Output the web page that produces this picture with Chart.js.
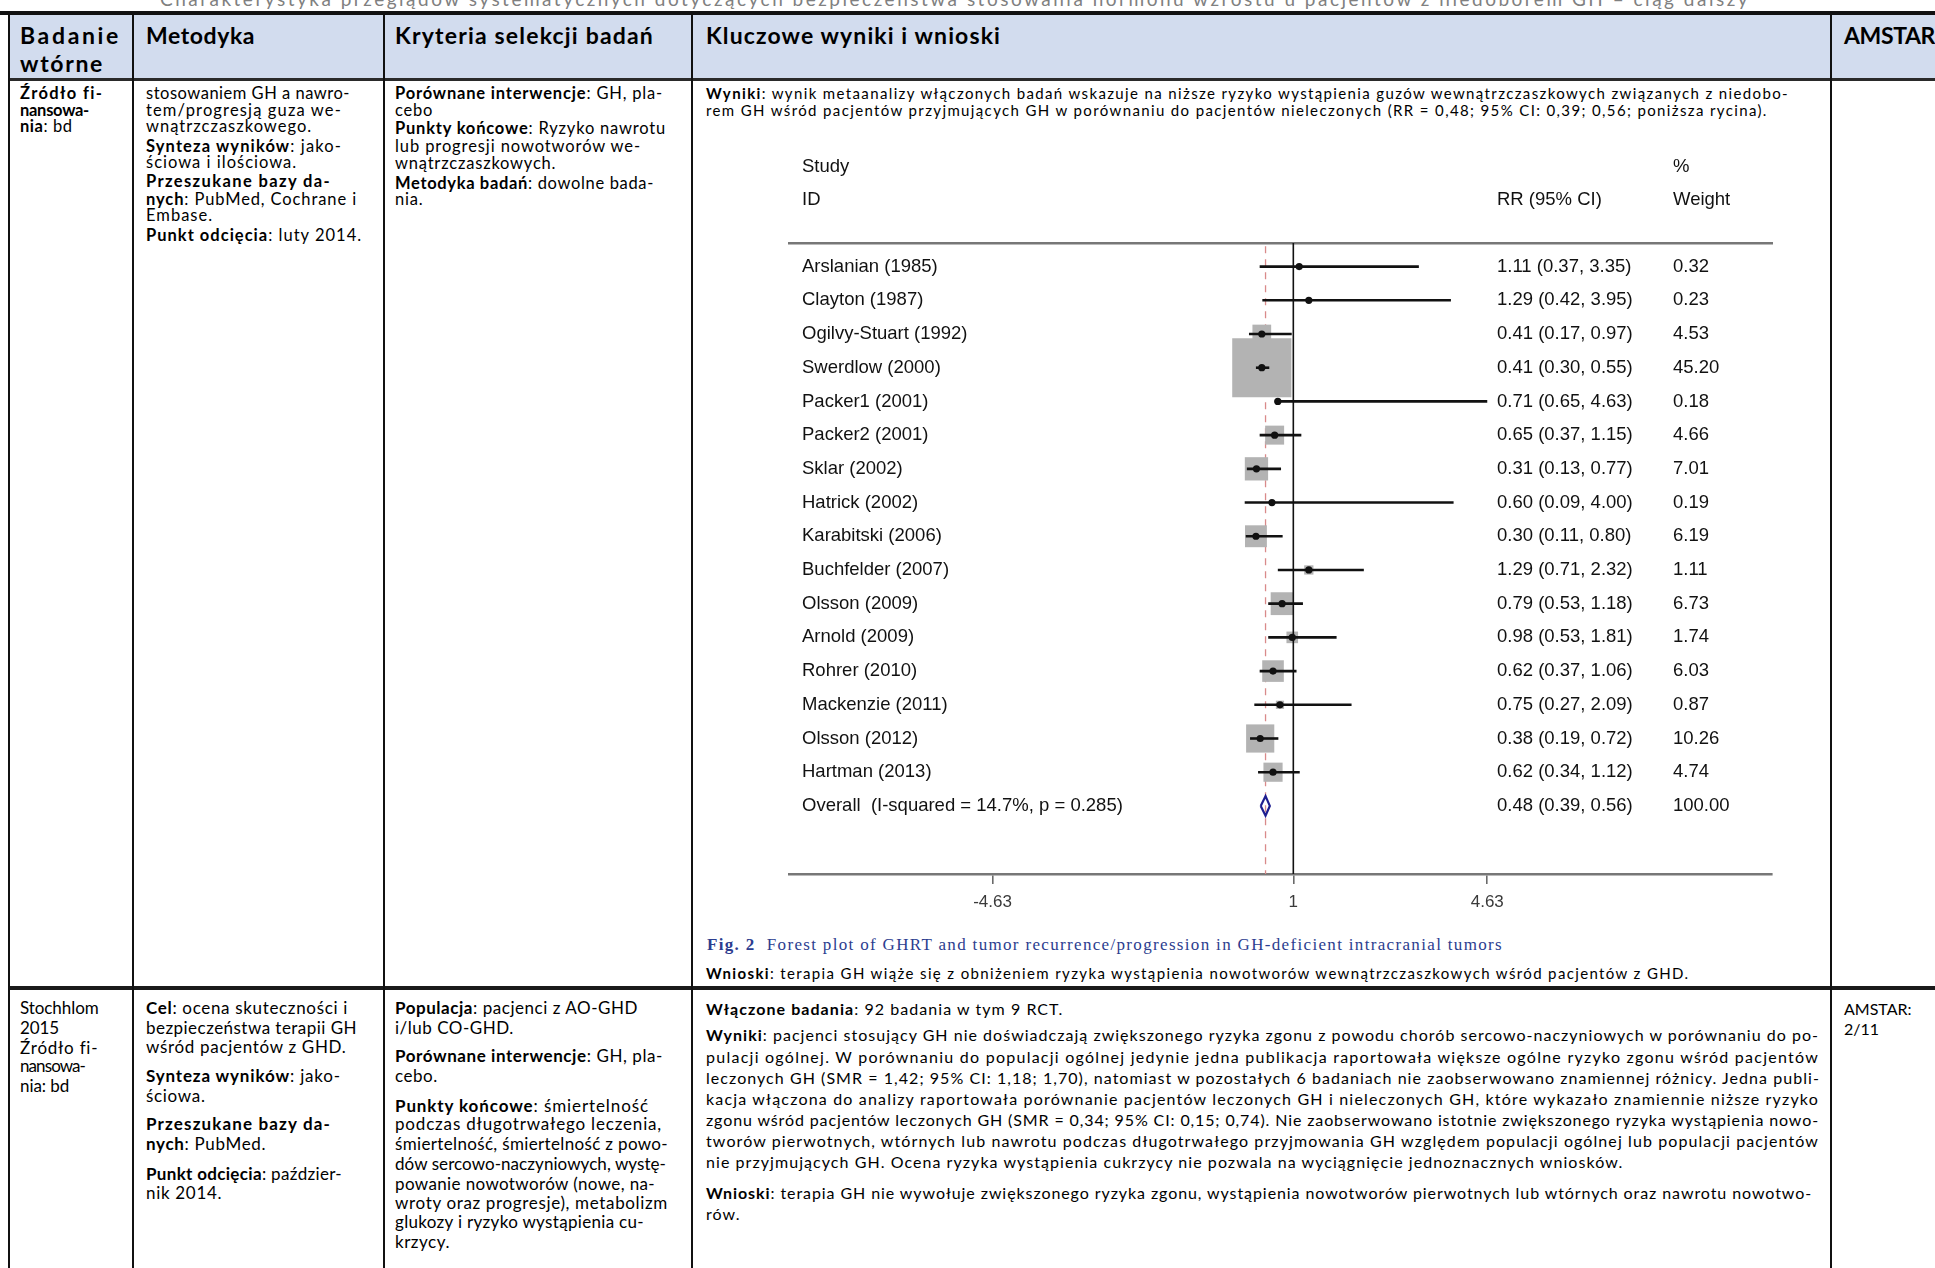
<!DOCTYPE html>
<html lang="pl">
<head>
<meta charset="utf-8">
<title>Forest plot – GHRT</title>
<script src="https://cdn.jsdelivr.net/npm/chart.js@4.4.1/dist/chart.umd.min.js"></script>
<style>
  html, body { margin: 0; padding: 0; background: #fff; }
  #page { position: relative; width: 1935px; height: 1268px; overflow: hidden; background: #fff;
          font-family: Lato, "Liberation Sans", sans-serif; color: #000; }
  .rule { position: absolute; background: #111; }
  .ln { position: absolute; white-space: nowrap; }
  .ln span { display: inline-block; white-space: pre; }
  .ln b { font-weight: 700; }
  #forest { position: absolute; left: 760px; top: 140px; }
</style>
</head>
<body>
<div id="page">
  <div class="rule" style="left:9px;top:15px;width:1926px;height:65px;background:#d2dcee"></div>
  <div class="rule" style="left:0;top:11px;width:1935px;height:4px"></div>
  <div class="rule" style="left:9px;top:78px;width:1926px;height:3px;background:#2a2a2a"></div>
  <div class="rule" style="left:9px;top:986px;width:1926px;height:4px;background:#1a1a1a"></div>
  <div class="rule" style="left:8px;top:14px;width:2px;height:1254px"></div>
  <div class="rule" style="left:132px;top:14px;width:2px;height:1254px"></div>
  <div class="rule" style="left:383px;top:14px;width:2px;height:1254px"></div>
  <div class="rule" style="left:691px;top:14px;width:2px;height:1254px"></div>
  <div class="rule" style="left:1830px;top:14px;width:2px;height:1254px"></div>
  <div id="text"></div>
  <canvas id="forest" width="1040" height="774"></canvas>
</div>
<script>
// ---- forest plot data: RR with 95% CI and % weight per study ----
const studies = [
  'Arslanian (1985)', 'Clayton (1987)', 'Ogilvy-Stuart (1992)', 'Swerdlow (2000)',
  'Packer1 (2001)', 'Packer2 (2001)', 'Sklar (2002)', 'Hatrick (2002)',
  'Karabitski (2006)', 'Buchfelder (2007)', 'Olsson (2009)', 'Arnold (2009)',
  'Rohrer (2010)', 'Mackenzie (2011)', 'Olsson (2012)', 'Hartman (2013)'
];
const rr      = [1.11, 1.29, 0.41, 0.41, 0.71, 0.65, 0.31, 0.60, 0.30, 1.29, 0.79, 0.98, 0.62, 0.75, 0.38, 0.62];
const ciLow   = [0.37, 0.42, 0.17, 0.30, 0.65, 0.37, 0.13, 0.09, 0.11, 0.71, 0.53, 0.53, 0.37, 0.27, 0.19, 0.34];
const ciHigh  = [3.35, 3.95, 0.97, 0.55, 4.63, 1.15, 0.77, 4.00, 0.80, 2.32, 1.18, 1.81, 1.06, 2.09, 0.72, 1.12];
const weights = [0.32, 0.23, 4.53, 45.20, 0.18, 4.66, 7.01, 0.19, 6.19, 1.11, 6.73, 1.74, 6.03, 0.87, 10.26, 4.74];

const overallLabel = 'Overall  (I-squared = 14.7%, p = 0.285)';
const overallRR = 0.48;
const overallLow = 0.39;
const overallHigh = 0.56;
const overallWeight = 100.00;

const tickValues = [-4.63, 1, 4.63];
const tickLabels = ['-4.63', '1', '4.63'];

// ---- axis ranges (row index on y, RR on a linear x axis) ----
const X_MIN = -8.44, X_MAX = 9.96;
const Y_MIN = -0.70, Y_MAX = 18.02;
const SQUARE_SIDE_PER_SQRT_WEIGHT = 8.8;
const DIAMOND_HALF = 0.29;

// ---- table text: [left, centre y, justified width or null, text]; ** toggles bold ----
const textBlocks = [
  { size: 19, color: '#808080', lines: [[160, -2, 1590, 'Charakterystyka przeglądów systematycznych dotyczących bezpieczeństwa stosowania hormonu wzrostu u pacjentów z niedoborem GH – ciąg dalszy']] },
  { size: 23, bold: true, lines: [
    [20, 34.6, 101, 'Badanie'], [20, 62.9, 84, 'wtórne'], [146, 34.6, 109, 'Metodyka'],
    [395, 34.6, 259, 'Kryteria selekcji badań'], [706, 34.6, 295, 'Kluczowe wyniki i wnioski'],
    [1844, 34.6, 91, 'AMSTAR']
  ] },
  { size: 16.5, lines: [
    [20, 92.6, 83, '**Źródło fi-**'], [20, 109.8, 69, '**nansowa-**'], [20, 125.9, null, '**nia**: bd']
  ] },
  { size: 16.5, lines: [
    [146, 92.6, 204, 'stosowaniem GH a nawro-'],
    [146, 109.8, 196, 'tem/progresją guza we-'],
    [146, 125.9, null, 'wnątrzczaszkowego.'],
    [146, 145.6, 196, '**Synteza wyników**: jako-'],
    [146, 161.7, null, 'ściowa i ilościowa.'],
    [146, 181.4, 185, '**Przeszukane bazy da-**'],
    [146, 198.7, 211, '**nych**: PubMed, Cochrane i'],
    [146, 214.7, null, 'Embase.'],
    [146, 234.5, null, '**Punkt odcięcia**: luty 2014.']
  ] },
  { size: 16.5, lines: [
    [395, 92.6, 268, '**Porównane interwencje**: GH, pla-'],
    [395, 109.8, null, 'cebo'],
    [395, 128.3, 271, '**Punkty końcowe**: Ryzyko nawrotu'],
    [395, 145.6, 246, 'lub progresji nowotworów we-'],
    [395, 162.9, null, 'wnątrzczaszkowych.'],
    [395, 182.6, 259, '**Metodyka badań**: dowolne bada-'],
    [395, 198.7, null, 'nia.']
  ] },
  { size: 15, lines: [
    [706, 92.6, 1083, '**Wyniki**: wynik metaanalizy włączonych badań wskazuje na niższe ryzyko wystąpienia guzów wewnątrzczaszkowych związanych z niedobo-'],
    [706, 109.8, null, 'rem GH wśród pacjentów przyjmujących GH w porównaniu do pacjentów nieleczonych (RR = 0,48; 95% CI: 0,39; 0,56; poniższa rycina).'],
    [706, 972.5, null, '**Wnioski**: terapia GH wiąże się z obniżeniem ryzyka wystąpienia nowotworów wewnątrzczaszkowych wśród pacjentów z GHD.']
  ] },
  { size: 17, serif: true, color: '#2c3d8f', lines: [
    [707, 945.3, 796, '**Fig. 2**  Forest plot of GHRT and tumor recurrence/progression in GH-deficient intracranial tumors']
  ] },
  { size: 17, lines: [
    [20, 1008.3, null, 'Stochhlom'], [20, 1028, null, '2015'], [20, 1047.8, 78, 'Źródło fi-'],
    [20, 1066.3, 65, 'nansowa-'], [20, 1086, null, 'nia: bd']
  ] },
  { size: 17, lines: [
    [146, 1008.3, 202, '**Cel**: ocena skuteczności i'],
    [146, 1028, 211, 'bezpieczeństwa terapii GH'],
    [146, 1046.5, null, 'wśród pacjentów z GHD.'],
    [146, 1076.1, 195, '**Synteza wyników**: jako-'],
    [146, 1095.9, null, 'ściowa.'],
    [146, 1124.3, 185, '**Przeszukane bazy da-**'],
    [146, 1144, null, '**nych**: PubMed.'],
    [146, 1173.6, 196, '**Punkt odcięcia**: paździer-'],
    [146, 1193.4, null, 'nik 2014.']
  ] },
  { size: 17, lines: [
    [395, 1008.3, 243, '**Populacja**: pacjenci z AO-GHD'],
    [395, 1028, null, 'i/lub CO-GHD.'],
    [395, 1056.4, 268, '**Porównane interwencje**: GH, pla-'],
    [395, 1076.1, null, 'cebo.'],
    [395, 1105.8, 254, '**Punkty końcowe**: śmiertelność'],
    [395, 1124.3, 267, 'podczas długotrwałego leczenia,'],
    [395, 1144, 273, 'śmiertelność, śmiertelność z powo-'],
    [395, 1163.8, 271, 'dów sercowo-naczyniowych, wystę-'],
    [395, 1183.5, 260, 'powanie nowotworów (nowe, na-'],
    [395, 1203.2, 273, 'wroty oraz progresje), metabolizm'],
    [395, 1221.8, 249, 'glukozy i ryzyko wystąpienia cu-'],
    [395, 1241.5, null, 'krzycy.']
  ] },
  { size: 16, lines: [
    [706, 1008.3, null, '**Włączone badania**: 92 badania w tym 9 RCT.'],
    [706, 1034.2, 1113, '**Wyniki**: pacjenci stosujący GH nie doświadczają zwiększonego ryzyka zgonu z powodu chorób sercowo-naczyniowych w porównaniu do po-'],
    [706, 1056.4, 1113, 'pulacji ogólnej. W porównaniu do populacji ogólnej jedynie jedna publikacja raportowała większe ogólne ryzyko zgonu wśród pacjentów'],
    [706, 1077.4, 1114, 'leczonych GH (SMR = 1,42; 95% CI: 1,18; 1,70), natomiast w pozostałych 6 badaniach nie zaobserwowano znamiennej różnicy. Jedna publi-'],
    [706, 1098.3, 1113, 'kacja włączona do analizy raportowała porównanie pacjentów leczonych GH i nieleczonych GH, które wykazało znamiennie niższe ryzyko'],
    [706, 1119.3, 1113, 'zgonu wśród pacjentów leczonych GH (SMR = 0,34; 95% CI: 0,15; 0,74). Nie zaobserwowano istotnie zwiększonego ryzyka wystąpienia nowo-'],
    [706, 1140.3, 1113, 'tworów pierwotnych, wtórnych lub nawrotu podczas długotrwałego przyjmowania GH względem populacji ogólnej lub populacji pacjentów'],
    [706, 1161.3, null, 'nie przyjmujących GH. Ocena ryzyka wystąpienia cukrzycy nie pozwala na wyciągnięcie jednoznacznych wniosków.'],
    [706, 1192.1, 1106, '**Wnioski**: terapia GH nie wywołuje zwiększonego ryzyka zgonu, wystąpienia nowotworów pierwotnych lub wtórnych oraz nawrotu nowotwo-'],
    [706, 1213.1, null, 'rów.']
  ] },
  { size: 16, lines: [[1844, 1008.3, null, 'AMSTAR:'], [1844, 1028, null, '2/11']] }
];

// Build the text lines.
const holder = document.getElementById('text');
const blockLines = textBlocks.map(block => {
  const lh = Math.round(block.size * 1.2);
  return block.lines.map(([x, y, w, txt]) => {
    const div = document.createElement('div');
    div.className = 'ln';
    div.style.left = x + 'px';
    div.style.top = (y - lh / 2) + 'px';
    div.style.lineHeight = lh + 'px';
    div.style.fontSize = block.size + 'px';
    if (block.color) div.style.color = block.color;
    if (block.serif) div.style.fontFamily = '"Liberation Serif", "DejaVu Serif", serif';
    const span = document.createElement('span');
    txt.split('**').forEach((part, i) => {
      if (!part) return;
      if (i % 2 === 1 || block.bold) {
        const b = document.createElement('b');
        b.textContent = part;
        span.appendChild(b);
      } else {
        span.appendChild(document.createTextNode(part));
      }
    });
    div.appendChild(span);
    holder.appendChild(div);
    return { span, w, n: txt.replace(/\*\*/g, '').length };
  });
});

// Justified lines are spread to their column width; paragraph-final lines
// take the block's average letter spacing.
function fitLines() {
  blockLines.forEach(lines => {
    let sum = 0, count = 0;
    lines.forEach(l => {
      l.span.style.letterSpacing = '0px';
      if (l.w == null) return;
      const natural = l.span.getBoundingClientRect().width;
      l.ls = (l.w - natural) / l.n;
      sum += l.ls; count++;
    });
    const mean = count ? sum / count : 0;
    lines.forEach(l => {
      const ls = l.w == null ? mean : l.ls;
      l.span.style.letterSpacing = ls.toFixed(3) + 'px';
    });
  });
}
fitLines();
if (document.fonts && document.fonts.ready) document.fonts.ready.then(fitLines);

// ---- forest plot ----
const fmt2 = v => v.toFixed(2);
const ciText = (m, l, h) => `${fmt2(m)} (${fmt2(l)}, ${fmt2(h)})`;
const overallRow = studies.length;

const forestText = {
  id: 'forestText',
  afterDatasetsDraw(chart) {
    const { ctx, chartArea: a, scales: { y } } = chart;
    const xLabel = a.left + 13, xRR = a.right - 275, xW = a.right - 99;
    ctx.save();
    ctx.font = '18.5px "Liberation Sans", Arial, sans-serif';
    ctx.fillStyle = '#111';
    ctx.textBaseline = 'middle';
    ctx.textAlign = 'left';
    ctx.fillText('Study', xLabel, a.top - 76);
    ctx.fillText('ID', xLabel, a.top - 43);
    ctx.fillText('%', xW, a.top - 76);
    ctx.fillText('RR (95% CI)', xRR, a.top - 43);
    ctx.fillText('Weight', xW, a.top - 43);
    studies.forEach((s, i) => {
      const py = y.getPixelForValue(i);
      ctx.fillText(s, xLabel, py);
      ctx.fillText(ciText(rr[i], ciLow[i], ciHigh[i]), xRR, py);
      ctx.fillText(fmt2(weights[i]), xW, py);
    });
    const po = y.getPixelForValue(overallRow);
    ctx.fillText(overallLabel, xLabel, po);
    ctx.fillText(ciText(overallRR, overallLow, overallHigh), xRR, po);
    ctx.fillText(fmt2(overallWeight), xW, po);
    ctx.restore();
  }
};

const ciLines = studies.map((s, i) => ({
  label: s,
  data: [{ x: ciLow[i], y: i }, { x: ciHigh[i], y: i }],
  showLine: true, borderColor: '#111', borderWidth: 2.6, pointRadius: 0, order: 3
}));

const datasets = [
  {
    label: 'overall-ref',
    data: [{ x: overallRR, y: Y_MIN + 0.1 }, { x: overallRR, y: Y_MAX }],
    showLine: true, borderColor: '#d98a8a', borderWidth: 1.3, borderDash: [7, 6], pointRadius: 0, order: 6
  },
  {
    label: 'weights',
    data: studies.map((s, i) => ({ x: rr[i], y: i })),
    pointStyle: 'rect',
    pointRadius: weights.map(w => SQUARE_SIDE_PER_SQRT_WEIGHT * Math.sqrt(w) / Math.SQRT2),
    backgroundColor: '#b3b3b3', borderWidth: 0, order: 5
  },
  ...ciLines,
  {
    label: 'null',
    data: [{ x: 1, y: Y_MIN }, { x: 1, y: Y_MAX }],
    showLine: true, borderColor: '#111', borderWidth: 1.6, pointRadius: 0, order: 2
  },
  {
    label: 'estimates',
    data: studies.map((s, i) => ({ x: rr[i], y: i })),
    pointStyle: 'circle', pointRadius: 3.6, backgroundColor: '#111', borderWidth: 0, order: 1
  },
  {
    label: 'overall',
    data: [
      { x: overallLow, y: overallRow },
      { x: overallRR, y: overallRow - DIAMOND_HALF },
      { x: overallHigh, y: overallRow },
      { x: overallRR, y: overallRow + DIAMOND_HALF },
      { x: overallLow, y: overallRow }
    ],
    showLine: true, borderColor: '#1e1e90', borderWidth: 2.2, pointRadius: 0, tension: 0, order: 1
  }
];

new Chart(document.getElementById('forest'), {
  type: 'scatter',
  data: { datasets },
  options: {
    responsive: false,
    animation: false,
    events: [],
    layout: { autoPadding: false, padding: { left: 29, right: 28, top: 103, bottom: 0 } },
    plugins: { legend: { display: false }, tooltip: { enabled: false } },
    scales: {
      x: {
        type: 'linear', position: 'bottom', min: X_MIN, max: X_MAX,
        afterBuildTicks: s => { s.ticks = tickValues.map(v => ({ value: v })); },
        afterFit: s => { s.height = 40; },
        ticks: {
          callback: (v, i) => tickLabels[i],
          font: { family: '"Liberation Sans", Arial, sans-serif', size: 17 },
          color: '#3a3a3a', padding: 8, maxRotation: 0, autoSkip: false
        },
        grid: { display: true, drawOnChartArea: false, drawTicks: true, tickLength: 10, tickColor: '#6a6a6a', lineWidth: 1.6 },
        border: { display: true, color: '#777', width: 2.6 }
      },
      x2: {
        type: 'linear', position: 'top', min: X_MIN, max: X_MAX,
        afterFit: s => { s.height = 0; },
        ticks: { display: false },
        grid: { display: false, drawTicks: false },
        border: { display: true, color: '#777', width: 2.6 }
      },
      y: { type: 'linear', reverse: true, min: Y_MIN, max: Y_MAX, display: false }
    }
  },
  plugins: [forestText]
});
</script>
</body>
</html>
